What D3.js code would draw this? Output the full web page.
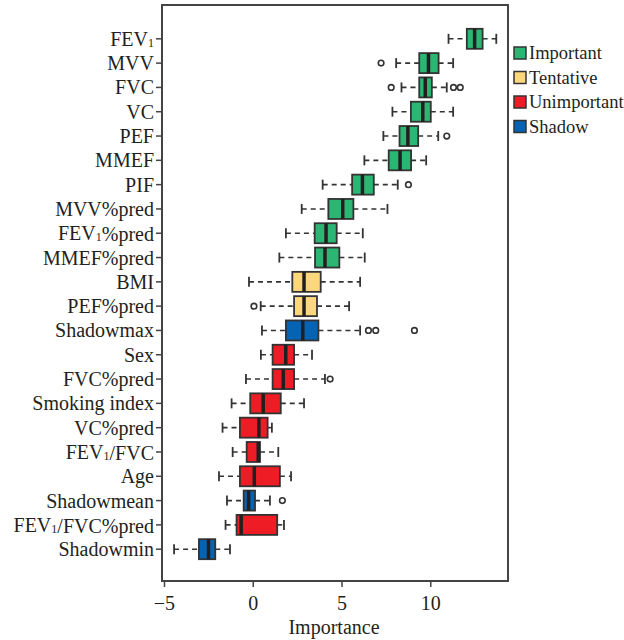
<!DOCTYPE html>
<html>
<head>
<meta charset="utf-8">
<script src="https://cdn.jsdelivr.net/npm/d3@7"></script>
<style>
  body { margin: 0; background: #fff; }
  text { font-family: "Liberation Serif", "DejaVu Serif", serif; fill: #231f20; }
</style>
</head>
<body>
<div id="chart"></div>
<script>
// feature names, top to bottom ("FEV1" gets a subscript 1 when drawn)
var features = ["FEV1", "MVV", "FVC", "VC", "PEF", "MMEF", "PIF", "MVV%pred", "FEV1%pred",
  "MMEF%pred", "BMI", "PEF%pred", "Shadowmax", "Sex", "FVC%pred", "Smoking index", "VC%pred",
  "FEV1/FVC", "Age", "Shadowmean", "FEV1/FVC%pred", "Shadowmin"];
var decision = ["Important", "Important", "Important", "Important", "Important", "Important", "Important",
  "Important", "Important", "Important", "Tentative", "Tentative", "Shadow", "Unimportant", "Unimportant",
  "Unimportant", "Unimportant", "Unimportant", "Unimportant", "Shadow", "Unimportant", "Shadow"];

// box stats
var whiskLo = [11.0, 8.05, 8.35, 7.84, 7.33, 6.26, 3.91, 2.73, 1.84, 1.47, -0.24, 0.42, 0.49, 0.43, -0.41, -1.22, -1.73, -1.16, -1.93, -1.48, -1.56, -4.46];
var q1      = [12.03, 9.35, 9.35, 8.88, 8.24, 7.63, 5.57, 4.23, 3.46, 3.48, 2.2, 2.3, 1.84, 1.09, 1.09, -0.17, -0.75, -0.37, -0.75, -0.54, -0.94, -3.06];
var median  = [12.47, 9.87, 9.69, 9.55, 8.71, 8.27, 6.15, 5.04, 4.1, 4.04, 2.86, 2.86, 2.79, 1.83, 1.69, 0.56, 0.32, 0.28, 0.06, -0.26, -0.68, -2.52];
var q3      = [12.92, 10.44, 10.06, 10.0, 9.29, 8.89, 6.79, 5.64, 4.7, 4.85, 3.8, 3.59, 3.67, 2.3, 2.3, 1.55, 0.81, 0.38, 1.5, 0.1, 1.35, -2.14];
var whiskHi = [13.69, 11.26, 10.9, 11.26, 10.42, 9.74, 8.14, 7.56, 6.17, 6.28, 6.02, 5.4, 6.02, 3.31, 4.04, 2.86, 1.05, 1.41, 2.13, 0.94, 1.73, -1.31];
var outliers = [[], [7.2], [7.77, 11.28, 11.66], [], [10.9], [], [8.74], [], [], [], [], [0.04],
  [6.49, 6.9, 9.08], [], [4.33], [], [], [], [], [1.64], [], []];

var legendNames = ["Important", "Tentative", "Unimportant", "Shadow"];
var legendColors = ["#2bb673", "#fdd77c", "#ee1c25", "#0563b4"];
var xTicks = [-5, 0, 5, 10];

var svgWidth = 624, svgHeight = 640;
var plot = { left: 162, right: 508, top: 5, bottom: 581 };
var fontSize = 20;

var svg = d3.select("#chart").append("svg")
  .attr("width", svgWidth)
  .attr("height", svgHeight);

var color = d3.scaleOrdinal().domain(legendNames).range(legendColors);

var x = d3.scaleLinear().domain([-5.14, 14.35]).range([plot.left, plot.right]);
var y = d3.scalePoint().domain(features).range([plot.top + 1, plot.bottom + 1]).padding(1.35);

var rows = features.map(function(f, i) {
  return { name: f, cls: decision[i], lo: whiskLo[i], q1: q1[i], med: median[i], q3: q3[i], hi: whiskHi[i], out: outliers[i] };
});

var boxH = 20;
var ink = "#333";

// whiskers (dashed) and caps
var g = svg.append("g");
g.selectAll(".wl").data(rows).enter().append("line")
  .attr("x1", d => x(d.lo)).attr("x2", d => x(d.q1))
  .attr("y1", d => y(d.name)).attr("y2", d => y(d.name))
  .attr("stroke", ink).attr("stroke-width", 1.6).attr("stroke-dasharray", "5,4");
g.selectAll(".wh").data(rows).enter().append("line")
  .attr("x1", d => x(d.q3)).attr("x2", d => x(d.hi))
  .attr("y1", d => y(d.name)).attr("y2", d => y(d.name))
  .attr("stroke", ink).attr("stroke-width", 1.6).attr("stroke-dasharray", "5,4");
[ "lo", "hi" ].forEach(function(k) {
  g.selectAll(".cap" + k).data(rows).enter().append("line")
    .attr("x1", d => x(d[k])).attr("x2", d => x(d[k]))
    .attr("y1", d => y(d.name) - 5).attr("y2", d => y(d.name) + 5)
    .attr("stroke", ink).attr("stroke-width", 1.8);
});

// boxes
g.selectAll("rect.box").data(rows).enter().append("rect")
  .attr("x", d => x(d.q1)).attr("width", d => x(d.q3) - x(d.q1))
  .attr("y", d => y(d.name) - boxH / 2).attr("height", boxH)
  .attr("fill", d => color(d.cls))
  .attr("stroke", ink).attr("stroke-width", 1.8);
g.selectAll(".med").data(rows).enter().append("line")
  .attr("x1", d => x(d.med)).attr("x2", d => x(d.med))
  .attr("y1", d => y(d.name) - boxH / 2).attr("y2", d => y(d.name) + boxH / 2)
  .attr("stroke", "#231f20").attr("stroke-width", 3.5);

// outliers
var pts = [];
rows.forEach(function(d) { d.out.forEach(function(v) { pts.push({ name: d.name, v: v }); }); });
g.selectAll("circle").data(pts).enter().append("circle")
  .attr("cx", d => x(d.v)).attr("cy", d => y(d.name)).attr("r", 2.8)
  .attr("fill", "none").attr("stroke", ink).attr("stroke-width", 1.6);

// frame
svg.append("rect")
  .attr("x", plot.left).attr("y", plot.top)
  .attr("width", plot.right - plot.left).attr("height", plot.bottom - plot.top)
  .attr("fill", "none").attr("stroke", "#444").attr("stroke-width", 2);

// y labels with ticks
var yAx = svg.append("g");
features.forEach(function(f) {
  yAx.append("line")
    .attr("x1", plot.left - 6).attr("x2", plot.left)
    .attr("y1", y(f)).attr("y2", y(f))
    .attr("stroke", "#444").attr("stroke-width", 1.5);
  var t = yAx.append("text")
    .attr("x", plot.left - 8).attr("y", y(f)).attr("dy", "0.35em")
    .attr("text-anchor", "end").attr("font-size", fontSize);
  var parts = f.split("FEV1");
  parts.forEach(function(p, i) {
    if (i > 0) {
      t.append("tspan").text("FEV");
      t.append("tspan").attr("font-size", 12).attr("dy", 1).text("1");
      t.append("tspan").attr("dy", -1).text("");
    }
    if (p) t.append("tspan").text(p);
  });
});

// x axis
var xAx = svg.append("g");
xTicks.forEach(function(v) {
  xAx.append("line")
    .attr("x1", x(v)).attr("x2", x(v))
    .attr("y1", plot.bottom).attr("y2", plot.bottom + 6)
    .attr("stroke", "#444").attr("stroke-width", 1.5);
  xAx.append("text")
    .attr("x", x(v)).attr("y", plot.bottom + 29)
    .attr("text-anchor", "middle").attr("font-size", fontSize)
    .text(v < 0 ? "\u2212" + Math.abs(v) : v);
});
svg.append("text")
  .attr("x", (plot.left + plot.right) / 2 - 1).attr("y", 634)
  .attr("text-anchor", "middle").attr("font-size", fontSize)
  .text("Importance");

// legend
var leg = svg.append("g").attr("transform", "translate(514, 53)");
legendNames.forEach(function(n, i) {
  leg.append("rect")
    .attr("x", 0).attr("y", i * 24.5 - 6).attr("width", 12).attr("height", 12)
    .attr("fill", color(n)).attr("stroke", ink).attr("stroke-width", 1.5);
  leg.append("text")
    .attr("x", 15).attr("y", i * 24.5).attr("dy", "0.35em")
    .attr("font-size", 18.5).text(n);
});
</script>
</body>
</html>
